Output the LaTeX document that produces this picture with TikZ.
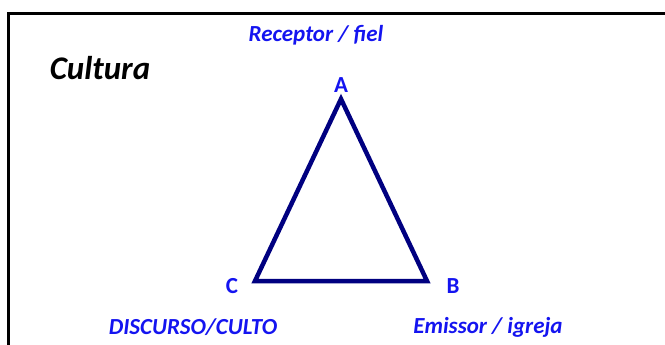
\documentclass[tikz,border=0pt]{standalone}
\usepackage{fontspec}
\setmainfont{Carlito}
\definecolor{labelBlue}{RGB}{20, 20, 240}
\definecolor{edgeNavy}{RGB}{0, 0, 128}

\begin{document}
\begin{tikzpicture}[
      x=1pt, y=-1pt,
      every node/.style={inner sep=0pt},
      vertex/.style={font=\fontsize{23}{26}\selectfont\bfseries, text=labelBlue},
      role/.style={font=\fontsize{23}{26}\selectfont\bfseries\itshape, text=labelBlue},
      title/.style={font=\fontsize{33}{38}\selectfont\bfseries\itshape},
      side/.style={line width=4.5pt, edgeNavy}
    ]
      \path[use as bounding box, clip] (0,0) rectangle (665,345);
      \draw[line width=3pt] (8,14) rectangle (690,370);

      % vertices of the triangle
      \coordinate (a) at (341,99);
      \coordinate (b) at (427,281);
      \coordinate (c) at (255,281);
      \draw[side] (a) -- (b) -- (c) -- cycle;

      \node[vertex] (lA) at (341,85) {A};
      \node[vertex] (lB) at (453,286) {B};
      \node[vertex] (lC) at (232,286) {C};

      \node[title] (cult) at (100,68) {Cultura};
      \node[role] (rec) at (316,35) {Receptor / fiel};
      \node[role] (disc) at (193,327) {DISCURSO/CULTO};
      \node[role] (emi) at (488,327) {Emissor / igreja};
    \end{tikzpicture}
\end{document}
